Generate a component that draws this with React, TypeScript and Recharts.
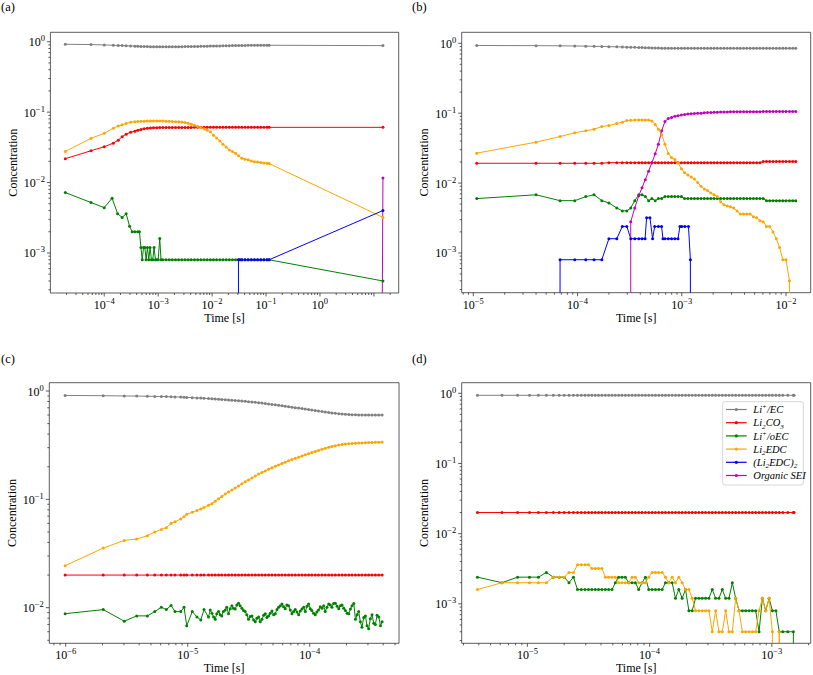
import React from 'react';
import { LineChart, Line, XAxis, YAxis, ReferenceArea } from 'recharts';

// ---------- colours ----------
const GREY = '#808080';
const RED = '#ff0000';
const GREEN = '#008000';
const ORANGE = '#ffa500';
const BLUE = '#0000ff';
const MAGENTA = '#bf00bf';
const AX = '#333333';
const SERIF = "'Liberation Serif', 'DejaVu Serif', serif";

// ---------- panel (a) ----------
const aT = [1.9e-5, 5.7e-5, 1.0e-4, 1.47e-4, 1.82e-4, 2.15e-4, 2.55e-4, 3.08e-4, 3.7e-4, 4.2e-4,
  4.8e-4, 5.5e-4, 6.3e-4, 7.2e-4, 8.2e-4, 9.4e-4, 1.07e-3, 1.22e-3, 1.4e-3, 1.6e-3,
  1.83e-3, 2.1e-3, 2.4e-3, 2.75e-3, 3.15e-3, 3.6e-3, 4.1e-3, 4.7e-3, 5.4e-3, 6.2e-3,
  7.1e-3, 8.1e-3, 9.3e-3, 1.06e-2, 1.21e-2, 1.39e-2, 1.59e-2, 1.82e-2, 2.08e-2, 2.38e-2,
  2.72e-2, 3.11e-2, 3.56e-2, 4.07e-2, 4.66e-2, 5.33e-2, 6.1e-2, 6.97e-2, 7.97e-2, 9.12e-2,
  0.104, 0.114, 14.7];
const aGrey = [0.92, 0.91, 0.90, 0.89, 0.885, 0.88, 0.875, 0.87, 0.865, 0.862,
  0.858, 0.855, 0.852, 0.85, 0.848, 0.847, 0.846, 0.846, 0.846, 0.847,
  0.848, 0.849, 0.85, 0.851, 0.852, 0.853, 0.855, 0.856, 0.858, 0.86,
  0.862, 0.864, 0.866, 0.868, 0.87, 0.872, 0.874, 0.876, 0.878, 0.88,
  0.882, 0.884, 0.885, 0.886, 0.887, 0.888, 0.889, 0.89, 0.89, 0.89,
  0.89, 0.89, 0.88];
const aRed = [0.0218, 0.0283, 0.0322, 0.0362, 0.040, 0.0448, 0.0486, 0.0517, 0.0537, 0.0552,
  0.0567, 0.0582, 0.059, 0.0595, 0.06, 0.0602, 0.0604, 0.0604, 0.0604, 0.0604,
  0.0604, 0.0604, 0.0604, 0.0604, 0.0604, 0.0604, 0.0604, 0.0608, 0.0608, 0.0608,
  0.0608, 0.0608, 0.0608, 0.0608, 0.0608, 0.0608, 0.0608, 0.0608, 0.0608, 0.0608,
  0.0608, 0.0608, 0.0608, 0.0608, 0.0608, 0.0608, 0.0608, 0.0608, 0.0608, 0.0608,
  0.0608, 0.0608, 0.0608];
const aOrange = [0.0277, 0.0425, 0.050, 0.0589, 0.0635, 0.066, 0.069, 0.0718, 0.073, 0.0735,
  0.074, 0.0742, 0.0745, 0.0747, 0.0748, 0.0748, 0.0748, 0.0745, 0.0742, 0.074,
  0.0736, 0.0732, 0.0728, 0.0722, 0.0712, 0.0695, 0.0675, 0.065, 0.0625, 0.0605,
  0.058, 0.0555, 0.0525, 0.047, 0.043, 0.039, 0.035, 0.032, 0.029, 0.0275,
  0.026, 0.024, 0.0222, 0.0215, 0.021, 0.0203, 0.0198, 0.0195, 0.0192, 0.019,
  0.0188, 0.0186, 0.0032];
const aGreen = [[1.9e-5, 0.0072], [5.7e-5, 0.0052], [1.0e-4, 0.0044], [1.4e-4, 0.006], [1.77e-4, 0.0036],
  [2.15e-4, 0.0032], [2.55e-4, 0.0036], [2.95e-4, 0.0024], [3.3e-4, 0.002], [3.7e-4, 0.002],
  [4.2e-4, 0.002], [4.5e-4, 0.002], [4.79e-4, 0.0012], [5.07e-4, 0.0008], [5.36e-4, 0.0012],
  [5.66e-4, 0.0012], [5.98e-4, 0.0008], [6.33e-4, 0.0012], [6.7e-4, 0.0008], [7.08e-4, 0.0012],
  [7.5e-4, 0.0008], [7.93e-4, 0.0008], [8.4e-4, 0.0012], [8.9e-4, 0.0008], [9.46e-4, 0.0008],
  [1.0e-3, 0.0008], [1.07e-3, 0.0016], [1.13e-3, 0.0008], [1.22e-3, 0.0008], [1.4e-3, 0.0008],
  [1.6e-3, 0.0008], [1.83e-3, 0.0008], [2.1e-3, 0.0008], [2.4e-3, 0.0008], [2.75e-3, 0.0008],
  [3.15e-3, 0.0008], [3.6e-3, 0.0008], [4.1e-3, 0.0008], [4.7e-3, 0.0008], [5.4e-3, 0.0008],
  [6.2e-3, 0.0008], [7.1e-3, 0.0008], [8.1e-3, 0.0008], [9.3e-3, 0.0008], [1.06e-2, 0.0008],
  [1.21e-2, 0.0008], [1.39e-2, 0.0008], [1.59e-2, 0.0008], [1.82e-2, 0.0008], [2.08e-2, 0.0008],
  [2.38e-2, 0.0008], [2.72e-2, 0.0008], [3.11e-2, 0.0008], [3.56e-2, 0.0008], [4.07e-2, 0.0008],
  [4.66e-2, 0.0008], [5.33e-2, 0.0008], [6.1e-2, 0.0008], [6.97e-2, 0.0008], [7.97e-2, 0.0008],
  [9.12e-2, 0.0008], [0.104, 0.0008], [0.114, 0.0008], [14.7, 0.0004]];
const aBlue = [[1.9e-5, 0], [2.72e-2, 0], [3.08e-2, 0.0008], [3.3e-2, 0.0008], [3.56e-2, 0.0008],
  [4.07e-2, 0.0008], [4.66e-2, 0.0008], [5.33e-2, 0.0008], [6.1e-2, 0.0008], [6.97e-2, 0.0008],
  [7.97e-2, 0.0008], [9.12e-2, 0.0008], [0.104, 0.0008], [0.114, 0.0008], [14.7, 0.004]];
const aMagenta = [[1.9e-5, 0], [0.114, 0], [14.7, 0.0116]];

// ---------- panel (b) ----------
const bT = [1.08e-5, 4.0e-5, 6.8e-5, 9.4e-5, 1.2e-4, 1.44e-4, 1.71e-4, 2.0e-4, 2.38e-4, 2.69e-4,
  2.97e-4, 3.24e-4, 3.54e-4, 3.87e-4, 4.16e-4, 4.47e-4, 4.81e-4, 5.17e-4, 5.56e-4, 5.97e-4,
  6.42e-4, 6.9e-4, 7.42e-4, 7.98e-4, 8.58e-4, 9.22e-4, 9.91e-4, 1.065e-3, 1.145e-3, 1.231e-3,
  1.323e-3, 1.422e-3, 1.529e-3, 1.644e-3, 1.767e-3, 1.9e-3, 2.04e-3, 2.19e-3, 2.36e-3, 2.54e-3,
  2.73e-3, 2.93e-3, 3.15e-3, 3.39e-3, 3.64e-3, 3.92e-3, 4.21e-3, 4.53e-3, 4.87e-3, 5.23e-3,
  5.62e-3, 6.04e-3, 6.5e-3, 6.98e-3, 7.51e-3, 8.07e-3, 8.67e-3, 9.32e-3, 1.0e-2, 1.08e-2,
  1.16e-2, 1.24e-2];
const bGrey = [0.93, 0.925, 0.92, 0.915, 0.91, 0.905, 0.9, 0.895, 0.89, 0.885,
  0.88, 0.877, 0.874, 0.87, 0.867, 0.864, 0.861, 0.858, 0.855, 0.853,
  0.851, 0.849, 0.848, 0.847, 0.846, 0.846, 0.846, 0.846, 0.846, 0.846,
  0.846, 0.846, 0.846, 0.846, 0.846, 0.846, 0.846, 0.846, 0.846, 0.846,
  0.846, 0.846, 0.846, 0.846, 0.846, 0.846, 0.846, 0.846, 0.846, 0.846,
  0.846, 0.846, 0.846, 0.846, 0.846, 0.846, 0.846, 0.846, 0.846, 0.846,
  0.846, 0.846];
const bRed = [0.0192, 0.0192, 0.0192, 0.0192, 0.0192, 0.0192, 0.0192, 0.0196, 0.0196, 0.0196,
  0.0196, 0.0196, 0.0196, 0.0196, 0.0196, 0.0196, 0.0196, 0.0196, 0.0196, 0.0196,
  0.0196, 0.0196, 0.0196, 0.0196, 0.0196, 0.0196, 0.0196, 0.0196, 0.0196, 0.0196,
  0.0196, 0.0196, 0.0196, 0.0196, 0.0196, 0.0196, 0.0196, 0.0196, 0.0196, 0.0196,
  0.0196, 0.0196, 0.0196, 0.0196, 0.0196, 0.0196, 0.0196, 0.0196, 0.0196, 0.0196,
  0.0196, 0.0204, 0.0204, 0.0204, 0.0204, 0.0204, 0.0204, 0.0204, 0.0204, 0.0204,
  0.0204, 0.0204];
const bGreen = [0.006, 0.0068, 0.0056, 0.0056, 0.0064, 0.0068, 0.0056, 0.0052, 0.0044, 0.004,
  0.004, 0.0044, 0.0056, 0.0068, 0.0068, 0.0064, 0.0056, 0.006, 0.0056, 0.006,
  0.006, 0.0064, 0.0064, 0.0064, 0.0064, 0.0064, 0.0064, 0.006, 0.006, 0.006,
  0.006, 0.006, 0.006, 0.006, 0.006, 0.006, 0.006, 0.006, 0.006, 0.006,
  0.006, 0.006, 0.006, 0.006, 0.006, 0.006, 0.006, 0.006, 0.006, 0.006,
  0.006, 0.006, 0.0056, 0.0056, 0.0056, 0.0056, 0.0056, 0.0056, 0.0056, 0.0056,
  0.0056, 0.0056];
const bOrange = [0.0268, 0.0385, 0.0463, 0.0524, 0.0559, 0.059, 0.0644, 0.0665, 0.0711, 0.0743,
  0.0784, 0.079, 0.0796, 0.080, 0.080, 0.080, 0.0796, 0.0775, 0.069, 0.059,
  0.049, 0.036, 0.0265, 0.0232, 0.0218, 0.0196, 0.016, 0.014, 0.013, 0.0122,
  0.0114, 0.0102, 0.009, 0.0082, 0.0078, 0.0072, 0.0068, 0.0064, 0.0054, 0.0049,
  0.0047, 0.0046, 0.0044, 0.004, 0.0036, 0.0036, 0.0036, 0.0036, 0.0033, 0.0032,
  0.0029, 0.0028, 0.0024, 0.0024, 0.002, 0.0016, 0.0012, 0.0008, 0.0008, 0.0004,
  0, 0];
const bMagenta = [0, 0, 0, 0, 0, 0, 0, 0, 0, 0,
  0, 0.0028, 0.0044, 0.0066, 0.0086, 0.0112, 0.0148, 0.0196, 0.0262, 0.036,
  0.056, 0.076, 0.084, 0.087, 0.09, 0.092, 0.094, 0.096, 0.097, 0.098,
  0.099, 0.1, 0.1, 0.101, 0.102, 0.102, 0.103, 0.103, 0.104, 0.104,
  0.104, 0.105, 0.105, 0.105, 0.105, 0.105, 0.105, 0.105, 0.105, 0.105,
  0.105, 0.106, 0.106, 0.106, 0.106, 0.106, 0.106, 0.106, 0.106, 0.106,
  0.106, 0.106];
const bBlue = [[1.08e-5, 0], [4.0e-5, 0], [6.8e-5, 0.0008], [9.4e-5, 0.0008], [1.2e-4, 0.0008],
  [1.44e-4, 0.0008], [1.71e-4, 0.0008], [2.0e-4, 0.0016], [2.38e-4, 0.0016], [2.69e-4, 0.0024],
  [2.97e-4, 0.0024], [3.24e-4, 0.0016], [3.54e-4, 0.0016], [3.87e-4, 0.0016], [4.16e-4, 0.0016],
  [4.45e-4, 0.0016], [4.6e-4, 0.0032], [4.95e-4, 0.0032], [5.25e-4, 0.0016], [5.5e-4, 0.0024],
  [5.97e-4, 0.0024], [6.4e-4, 0.0024], [6.6e-4, 0.0016], [6.9e-4, 0.0016], [7.42e-4, 0.0016],
  [7.98e-4, 0.0016], [8.58e-4, 0.0016], [9.2e-4, 0.0016], [9.6e-4, 0.0024], [1.0e-3, 0.0024],
  [1.07e-3, 0.0024], [1.16e-3, 0.0024], [1.21e-3, 0.0008], [1.23e-3, 0], [1.24e-2, 0]];

// ---------- panel (c) ----------
const cT = [0.99e-6, 2.03e-6, 3.02e-6, 3.82e-6, 4.67e-6, 5.37e-6, 6.08e-6, 6.68e-6, 7.3e-6, 7.87e-6,
  8.77e-6, 9.33e-6, 9.82e-6, 1.09e-5, 1.19e-5, 1.28e-5, 1.36e-5, 1.48e-5, 1.58e-5, 1.68e-5,
  1.79e-5, 1.9e-5, 2.03e-5, 2.16e-5, 2.3e-5, 2.45e-5, 2.61e-5, 2.78e-5, 2.96e-5, 3.15e-5,
  3.36e-5, 3.58e-5, 3.81e-5, 4.06e-5, 4.32e-5, 4.6e-5, 4.9e-5, 5.22e-5, 5.56e-5, 5.92e-5,
  6.3e-5, 6.71e-5, 7.15e-5, 7.61e-5, 8.11e-5, 8.64e-5, 9.2e-5, 9.79e-5, 1.04e-4, 1.11e-4,
  1.18e-4, 1.26e-4, 1.34e-4, 1.43e-4, 1.52e-4, 1.62e-4, 1.73e-4, 1.84e-4, 1.96e-4, 2.09e-4,
  2.22e-4, 2.37e-4, 2.52e-4, 2.68e-4, 2.86e-4, 3.04e-4, 3.24e-4, 3.45e-4, 3.68e-4, 3.92e-4];
const cGrey = [0.91, 0.905, 0.9, 0.898, 0.895, 0.892, 0.89, 0.888, 0.885, 0.882,
  0.879, 0.876, 0.873, 0.868, 0.864, 0.86, 0.856, 0.852, 0.848, 0.844,
  0.84, 0.836, 0.83, 0.826, 0.822, 0.818, 0.813, 0.808, 0.803, 0.797,
  0.792, 0.786, 0.78, 0.773, 0.766, 0.759, 0.752, 0.745, 0.738, 0.731,
  0.724, 0.716, 0.709, 0.702, 0.695, 0.688, 0.681, 0.674, 0.667, 0.66,
  0.653, 0.646, 0.64, 0.634, 0.628, 0.622, 0.617, 0.613, 0.61, 0.607,
  0.605, 0.603, 0.602, 0.601, 0.6, 0.6, 0.6, 0.599, 0.599, 0.599];
const cRed = [0.02, 0.02, 0.02, 0.02, 0.02, 0.02, 0.02, 0.02, 0.02, 0.02,
  0.02, 0.02, 0.02, 0.02, 0.02, 0.02, 0.02, 0.02, 0.02, 0.02,
  0.02, 0.02, 0.02, 0.02, 0.02, 0.02, 0.02, 0.02, 0.02, 0.02,
  0.02, 0.02, 0.02, 0.02, 0.02, 0.02, 0.02, 0.02, 0.02, 0.02,
  0.02, 0.02, 0.02, 0.02, 0.02, 0.02, 0.02, 0.02, 0.02, 0.02,
  0.02, 0.02, 0.02, 0.02, 0.02, 0.02, 0.02, 0.02, 0.02, 0.02,
  0.02, 0.02, 0.02, 0.02, 0.02, 0.02, 0.02, 0.02, 0.02, 0.02];
const cOrange = [0.0244, 0.0355, 0.0418, 0.043, 0.0462, 0.050, 0.0527, 0.0548, 0.06, 0.062,
  0.066, 0.069, 0.0727, 0.076, 0.079, 0.0815, 0.084, 0.088, 0.091, 0.096,
  0.101, 0.106, 0.112, 0.117, 0.122, 0.127, 0.133, 0.139, 0.145, 0.151,
  0.157, 0.164, 0.171, 0.177, 0.183, 0.19, 0.196, 0.202, 0.208, 0.214,
  0.22, 0.227, 0.233, 0.239, 0.245, 0.251, 0.258, 0.264, 0.27, 0.277,
  0.283, 0.29, 0.296, 0.302, 0.307, 0.312, 0.317, 0.321, 0.324, 0.326,
  0.328, 0.33, 0.331, 0.332, 0.333, 0.334, 0.335, 0.336, 0.337, 0.338];
// Li+/oEC in (c) is a dense, noisy trace: its own (time, value) list
const cGreen = [[0.99e-6, 0.0088], [2.03e-6, 0.0096], [3.02e-6, 0.0075], [3.82e-6, 0.0084], [4.67e-6, 0.0084],
  [5.37e-6, 0.0092], [6.08e-6, 0.0101], [6.68e-6, 0.0096], [7.3e-6, 0.0105], [7.87e-6, 0.0092],
  [8.77e-6, 0.0092], [9.33e-6, 0.0101], [9.82e-6, 0.0068], [1.09e-5, 0.0092], [1.19e-5, 0.0082],
  [1.28e-5, 0.0077], [1.36e-5, 0.0096], [1.48e-5, 0.0082], [1.53e-5, 0.0095], [1.58e-5, 0.0089],
  [1.63e-5, 0.0082], [1.68e-5, 0.0078], [1.73e-5, 0.0088], [1.79e-5, 0.0092], [1.845e-5, 0.0086],
  [1.9e-5, 0.0084], [1.96e-5, 0.0092], [2.03e-5, 0.0095], [2.09e-5, 0.0101], [2.16e-5, 0.0088],
  [2.23e-5, 0.0098], [2.3e-5, 0.0104], [2.37e-5, 0.0099], [2.45e-5, 0.0097], [2.53e-5, 0.0106],
  [2.61e-5, 0.011], [2.69e-5, 0.0104], [2.78e-5, 0.0099], [2.87e-5, 0.0094], [2.96e-5, 0.0092],
  [3.05e-5, 0.0086], [3.15e-5, 0.0078], [3.25e-5, 0.0083], [3.36e-5, 0.0084], [3.47e-5, 0.0077],
  [3.58e-5, 0.0074], [3.69e-5, 0.008], [3.81e-5, 0.0082], [3.93e-5, 0.0074], [4.06e-5, 0.0078],
  [4.19e-5, 0.0085], [4.32e-5, 0.0088], [4.46e-5, 0.0081], [4.6e-5, 0.0084], [4.75e-5, 0.0089],
  [4.9e-5, 0.0093], [5.06e-5, 0.0086], [5.22e-5, 0.0088], [5.39e-5, 0.0096], [5.56e-5, 0.0101],
  [5.74e-5, 0.0104], [5.92e-5, 0.0108], [6.11e-5, 0.0102], [6.3e-5, 0.0098], [6.5e-5, 0.0106],
  [6.71e-5, 0.0104], [6.93e-5, 0.0095], [7.15e-5, 0.0088], [7.38e-5, 0.0092], [7.61e-5, 0.0096],
  [7.86e-5, 0.0091], [8.11e-5, 0.0086], [8.37e-5, 0.0093], [8.64e-5, 0.0097], [8.92e-5, 0.0101],
  [9.2e-5, 0.0092], [9.5e-5, 0.0103], [9.79e-5, 0.0108], [1.01e-4, 0.0098], [1.04e-4, 0.0094],
  [1.075e-4, 0.0089], [1.11e-4, 0.0086], [1.145e-4, 0.0091], [1.18e-4, 0.0095], [1.22e-4, 0.0102],
  [1.26e-4, 0.0099], [1.3e-4, 0.0104], [1.34e-4, 0.0092], [1.385e-4, 0.0101], [1.43e-4, 0.0108],
  [1.475e-4, 0.0106], [1.52e-4, 0.0101], [1.57e-4, 0.0109], [1.62e-4, 0.011], [1.675e-4, 0.0103],
  [1.73e-4, 0.0098], [1.785e-4, 0.0104], [1.84e-4, 0.0106], [1.9e-4, 0.0099], [1.96e-4, 0.0094],
  [2.025e-4, 0.0089], [2.09e-4, 0.0088], [2.155e-4, 0.0097], [2.22e-4, 0.0104], [2.295e-4, 0.0109],
  [2.37e-4, 0.0078], [2.445e-4, 0.0086], [2.52e-4, 0.0092], [2.6e-4, 0.0074], [2.68e-4, 0.0066],
  [2.77e-4, 0.0081], [2.86e-4, 0.0084], [2.95e-4, 0.0068], [3.04e-4, 0.0064], [3.14e-4, 0.0079],
  [3.24e-4, 0.0086], [3.345e-4, 0.0072], [3.45e-4, 0.007], [3.565e-4, 0.0085], [3.68e-4, 0.0082],
  [3.8e-4, 0.0068], [3.92e-4, 0.0074]];

// ---------- panel (d) ----------
const dT = [3.9e-6, 6.2e-6, 8.3e-6, 1.04e-5, 1.23e-5, 1.43e-5, 1.63e-5, 1.82e-5, 2.0e-5, 2.19e-5,
  2.38e-5, 2.57e-5, 2.76e-5, 2.96e-5, 3.16e-5, 3.37e-5, 3.59e-5, 3.82e-5, 4.07e-5, 4.34e-5,
  4.62e-5, 4.92e-5, 5.24e-5, 5.58e-5, 5.94e-5, 6.33e-5, 6.74e-5, 7.18e-5, 7.65e-5, 8.14e-5,
  8.67e-5, 9.24e-5, 9.84e-5, 1.048e-4, 1.116e-4, 1.188e-4, 1.266e-4, 1.348e-4, 1.435e-4, 1.529e-4,
  1.628e-4, 1.734e-4, 1.847e-4, 1.967e-4, 2.095e-4, 2.231e-4, 2.376e-4, 2.53e-4, 2.695e-4, 2.87e-4,
  3.057e-4, 3.255e-4, 3.467e-4, 3.692e-4, 3.932e-4, 4.188e-4, 4.46e-4, 4.75e-4, 5.06e-4, 5.39e-4,
  5.74e-4, 6.11e-4, 6.51e-4, 6.93e-4, 7.38e-4, 7.86e-4, 8.37e-4, 8.92e-4, 9.5e-4, 1.01e-3,
  1.08e-3, 1.15e-3, 1.23e-3, 1.35e-3, 1.5e-3, 1.52e-3];
const dGrey = [0.936, 0.936, 0.936, 0.936, 0.936, 0.936, 0.936, 0.936, 0.936, 0.936,
  0.936, 0.936, 0.936, 0.936, 0.936, 0.936, 0.936, 0.936, 0.936, 0.936,
  0.936, 0.936, 0.936, 0.936, 0.936, 0.936, 0.936, 0.936, 0.936, 0.936,
  0.936, 0.936, 0.936, 0.936, 0.936, 0.936, 0.936, 0.936, 0.936, 0.936,
  0.936, 0.936, 0.936, 0.936, 0.936, 0.936, 0.936, 0.936, 0.936, 0.936,
  0.936, 0.936, 0.936, 0.936, 0.936, 0.936, 0.936, 0.936, 0.936, 0.936,
  0.936, 0.936, 0.936, 0.936, 0.936, 0.936, 0.936, 0.936, 0.936, 0.936,
  0.936, 0.936, 0.936, 0.936, 0.936, 0.936];
const dRed = [0.02, 0.02, 0.02, 0.02, 0.02, 0.02, 0.02, 0.02, 0.02, 0.02,
  0.02, 0.02, 0.02, 0.02, 0.02, 0.02, 0.02, 0.02, 0.02, 0.02,
  0.02, 0.02, 0.02, 0.02, 0.02, 0.02, 0.02, 0.02, 0.02, 0.02,
  0.02, 0.02, 0.02, 0.02, 0.02, 0.02, 0.02, 0.02, 0.02, 0.02,
  0.02, 0.02, 0.02, 0.02, 0.02, 0.02, 0.02, 0.02, 0.02, 0.02,
  0.02, 0.02, 0.02, 0.02, 0.02, 0.02, 0.02, 0.02, 0.02, 0.02,
  0.02, 0.02, 0.02, 0.02, 0.02, 0.02, 0.02, 0.02, 0.02, 0.02,
  0.02, 0.02, 0.02, 0.02, 0.02, 0.02];
const dGreen = [0.0024, 0.002, 0.0024, 0.0024, 0.0024, 0.0028, 0.0024, 0.0024, 0.0024, 0.002,
  0.0024, 0.0016, 0.0016, 0.0016, 0.0016, 0.0016, 0.0016, 0.0016, 0.0016, 0.0016,
  0.0016, 0.0016, 0.002, 0.0024, 0.0024, 0.0024, 0.002, 0.002, 0.002, 0.0016,
  0.002, 0.0024, 0.0016, 0.0016, 0.0016, 0.0016, 0.0016, 0.002, 0.002, 0.002,
  0.0012, 0.0016, 0.0012, 0.0016, 0.0008, 0.0008, 0.0012, 0.0012, 0.0012, 0.0012,
  0.0012, 0.0016, 0.0012, 0.0012, 0.0016, 0.0012, 0.0012, 0.002, 0.0012, 0.0008,
  0.0008, 0.0008, 0.0008, 0.0008, 0.0008, 0.0004, 0.0012, 0.0008, 0.0012, 0.0008,
  0.0008, 0.0004, 0.0004, 0.0004, 0.0004, 0];
const dOrange = [0.0016, 0.002, 0.002, 0.002, 0.002, 0.002, 0.0024, 0.0024, 0.0024, 0.0028,
  0.0028, 0.0036, 0.0036, 0.0036, 0.0036, 0.0032, 0.0032, 0.0032, 0.0032, 0.0024,
  0.0024, 0.0024, 0.0024, 0.002, 0.002, 0.002, 0.002, 0.0024, 0.0024, 0.002,
  0.002, 0.002, 0.0024, 0.0028, 0.0028, 0.0028, 0.0028, 0.0024, 0.002, 0.0024,
  0.002, 0.0024, 0.002, 0.0016, 0.0016, 0.0012, 0.0008, 0.0008, 0.0008, 0.0008,
  0.0008, 0.0004, 0.0008, 0.0004, 0.0004, 0.0008, 0.0004, 0.0004, 0.0012, 0.0008,
  0.0004, 0.0004, 0.0004, 0.0004, 0.0004, 0.0008, 0.0012, 0.0008, 0.0012, 0.0004,
  0, 0.0004, 0, 0, 0, 0];

// ---------- axis tick labels ----------
const aXLabels = [1e-4, 1e-3, 1e-2, 1e-1, 1];
const bXLabels = [1e-5, 1e-4, 1e-3, 1e-2];
const cXLabels = [1e-6, 1e-5, 1e-4];
const dXLabels = [1e-5, 1e-4, 1e-3];
const yLabels4 = [1e-3, 1e-2, 1e-1, 1];
const yLabels3 = [1e-2, 1e-1, 1];

// ---------- legend ----------
type Seg = [string, '' | 'sub' | 'sup'];
const LEGEND: { color: string; label: Seg[] }[] = [
  { color: GREY, label: [['Li', ''], ['+', 'sup'], ['/EC', '']] },
  { color: RED, label: [['Li', ''], ['2', 'sub'], ['CO', ''], ['3', 'sub']] },
  { color: GREEN, label: [['Li', ''], ['+', 'sup'], ['/oEC', '']] },
  { color: ORANGE, label: [['Li', ''], ['2', 'sub'], ['EDC', '']] },
  { color: BLUE, label: [['(Li', ''], ['2', 'sub'], ['EDC)', ''], ['2', 'sub']] },
  { color: MAGENTA, label: [['Organic SEI', '']] },
];

// ---------- helpers ----------
const FLOOR = 1e-300; // zero concentrations lie far below a log axis
const rows = (t: number[], c: number[]) => t.map((x, i) => ({ t: x, c: c[i] > 0 ? c[i] : FLOOR }));
const pairRows = (p: number[][]) => p.map(([t, c]) => ({ t, c: c > 0 ? c : FLOOR }));

function logTicks(dom: number[]) {
  const [lo, hi] = dom;
  const out: number[] = [];
  for (let e = Math.floor(Math.log10(lo)); e <= Math.ceil(Math.log10(hi)); e++) {
    for (let m = 1; m <= 9; m++) {
      const v = m * Math.pow(10, e);
      if (v >= lo && v <= hi) out.push(v);
    }
  }
  return out;
}
const expOf = (v: number) => Math.round(Math.log10(v));
const isMajor = (v: number) => Math.abs(Math.log10(v) - expOf(v)) < 1e-6;
const fmtExp = (e: number) => (e < 0 ? '\u2212' + String(-e) : String(e));
const hasLabel = (labels: number[], v: number) => labels.some((l) => expOf(l) === expOf(v));

const XTick = (p: any) => {
  const { x, y, payload, labels } = p;
  const v = payload.value;
  const major = isMajor(v);
  return (
    <g>
      <line x1={x} x2={x} y1={y} y2={y + (major ? 3.5 : 2)} stroke={AX} strokeWidth={0.8} />
      {major && hasLabel(labels, v) && (
        <text x={x} y={y + 16} textAnchor="middle" fontFamily={SERIF} fontSize={12} fill="#000">
          10<tspan dy={-5} fontSize={8.5}>{fmtExp(expOf(v))}</tspan>
        </text>
      )}
    </g>
  );
};

const YTick = (p: any) => {
  const { x, y, payload, labels } = p;
  const v = payload.value;
  const major = isMajor(v);
  return (
    <g>
      <line x1={x - (major ? 3.5 : 2)} x2={x} y1={y} y2={y} stroke={AX} strokeWidth={0.8} />
      {major && hasLabel(labels, v) && (
        <text x={x - 5.5} y={y + 4.5} textAnchor="end" fontFamily={SERIF} fontSize={12} fill="#000">
          10<tspan dy={-5} fontSize={8.5}>{fmtExp(expOf(v))}</tspan>
        </text>
      )}
    </g>
  );
};

type Series = { key: string; color: string; data: { t: number; c: number }[] };
type PanelProps = {
  pos: { left: number; top: number; width: number; height: number };
  box: { x0: number; x1: number; y0: number; y1: number };
  xDom: number[];
  yDom: number[];
  xLabels: number[];
  yLabels: number[];
  series: Series[];
};

function Panel({ pos, box, xDom, yDom, xLabels, yLabels, series }: PanelProps) {
  const yw = 40;
  const xh = 30;
  const margin = {
    left: box.x0 - pos.left - yw,
    top: box.y0 - pos.top,
    right: pos.left + pos.width - box.x1,
    bottom: pos.top + pos.height - box.y1 - xh,
  };
  return (
    <div style={{ position: 'absolute', left: pos.left, top: pos.top }}>
      <LineChart width={pos.width} height={pos.height} margin={margin}>
        <XAxis
          type="number" dataKey="t" scale="log" domain={xDom} allowDataOverflow
          ticks={logTicks(xDom)} interval={0} tickSize={0} tickMargin={0} tickLine={false}
          axisLine={false} height={xh}
          tick={(p: any) => <XTick {...p} labels={xLabels} />}
        />
        <YAxis
          type="number" dataKey="c" scale="log" domain={yDom} allowDataOverflow
          ticks={logTicks(yDom)} interval={0} tickSize={0} tickMargin={0} tickLine={false}
          axisLine={false} width={yw}
          tick={(p: any) => <YTick {...p} labels={yLabels} />}
        />
        <ReferenceArea x1={xDom[0]} x2={xDom[1]} y1={yDom[0]} y2={yDom[1]} fill="none"
          stroke={AX} strokeWidth={0.8} ifOverflow="visible" />
        {series.map((s) => (
          <Line key={s.key} data={s.data} dataKey="c" type="linear" stroke={s.color} strokeWidth={1}
            dot={{ r: 1.5, fill: s.color, stroke: 'none' }} activeDot={false}
            isAnimationActive={false} />
        ))}
      </LineChart>
    </div>
  );
}

const PANELS: PanelProps[] = [
  {
    pos: { left: 0, top: 0, width: 406, height: 337 },
    box: { x0: 50.4, x1: 398.7, y0: 32.3, y1: 293 },
    xDom: [1.005e-5, 28.8], yDom: [2.7e-4, 1.36],
    xLabels: aXLabels, yLabels: yLabels4,
    series: [
      { key: 'g', color: GREY, data: rows(aT, aGrey) },
      { key: 'r', color: RED, data: rows(aT, aRed) },
      { key: 'gr', color: GREEN, data: pairRows(aGreen) },
      { key: 'o', color: ORANGE, data: rows(aT, aOrange) },
      { key: 'b', color: BLUE, data: pairRows(aBlue) },
      { key: 'm', color: MAGENTA, data: pairRows(aMagenta) },
    ],
  },
  {
    pos: { left: 406, top: 0, width: 407, height: 337 },
    box: { x0: 461.7, x1: 810.7, y0: 32.3, y1: 292.7 },
    xDom: [7.74e-6, 1.726e-2], yDom: [2.7e-4, 1.436],
    xLabels: bXLabels, yLabels: yLabels4,
    series: [
      { key: 'g', color: GREY, data: rows(bT, bGrey) },
      { key: 'r', color: RED, data: rows(bT, bRed) },
      { key: 'gr', color: GREEN, data: rows(bT, bGreen) },
      { key: 'o', color: ORANGE, data: rows(bT, bOrange) },
      { key: 'b', color: BLUE, data: pairRows(bBlue) },
      { key: 'm', color: MAGENTA, data: rows(bT, bMagenta) },
    ],
  },
  {
    pos: { left: 0, top: 337, width: 406, height: 338 },
    box: { x0: 49.3, x1: 399, y0: 382.7, y1: 643.3 },
    xDom: [7.34e-7, 5.39e-4], yDom: [4.69e-3, 1.193],
    xLabels: cXLabels, yLabels: yLabels3,
    series: [
      { key: 'g', color: GREY, data: rows(cT, cGrey) },
      { key: 'r', color: RED, data: rows(cT, cRed) },
      { key: 'gr', color: GREEN, data: pairRows(cGreen) },
      { key: 'o', color: ORANGE, data: rows(cT, cOrange) },
    ],
  },
  {
    pos: { left: 406, top: 337, width: 407, height: 338 },
    box: { x0: 461.7, x1: 810.7, y0: 382.7, y1: 643.3 },
    xDom: [2.9e-6, 2.08e-3], yDom: [2.74e-4, 1.415],
    xLabels: dXLabels, yLabels: yLabels4,
    series: [
      { key: 'g', color: GREY, data: rows(dT, dGrey) },
      { key: 'r', color: RED, data: rows(dT, dRed) },
      { key: 'gr', color: GREEN, data: rows(dT, dGreen) },
      { key: 'o', color: ORANGE, data: rows(dT, dOrange) },
    ],
  },
];

const PANEL_LETTERS = ['(a)', '(b)', '(c)', '(d)'];

function RichText({ segs, x, y, size }: { segs: Seg[]; x: number; y: number; size: number }) {
  let state = 0;
  return (
    <text x={x} y={y} fontFamily={SERIF} fontStyle="italic" fontSize={size} fill="#000">
      {segs.map(([txt, kind], i) => {
        const target = kind === 'sup' ? -4 : kind === 'sub' ? 2.5 : 0;
        const dy = target - state;
        state = target;
        return (
          <tspan key={i} dy={dy} fontSize={kind ? size * 0.68 : size}>{txt}</tspan>
        );
      })}
    </text>
  );
}

function Overlay() {
  const lg = { x: 722.7, y: 401.7, w: 80.6, h: 83.3 };
  return (
    <svg width={813} height={675} style={{ position: 'absolute', left: 0, top: 0, pointerEvents: 'none' }}>
      {PANELS.map((p, i) => {
        const cx = (p.box.x0 + p.box.x1) / 2;
        const cy = (p.box.y0 + p.box.y1) / 2;
        const lx = p.pos.left + 1 + (i % 2 === 1 ? 5 : 0);
        const ly = p.pos.top + (i < 2 ? 11 : 26);
        const ylx = p.box.x0 - 37.5;
        return (
          <g key={i}>
            <text x={lx} y={ly} fontFamily={SERIF} fontSize={12.5} fill="#000">{PANEL_LETTERS[i]}</text>
            <text x={cx} y={p.box.y1 + 25} textAnchor="middle" dominantBaseline="central"
              fontFamily={SERIF} fontSize={12} fill="#000">Time [s]</text>
            <text x={ylx} y={cy} textAnchor="middle" dominantBaseline="central"
              transform={`rotate(-90 ${ylx} ${cy})`} fontFamily={SERIF} fontSize={12} fill="#000">Concentration</text>
          </g>
        );
      })}
      <rect x={lg.x} y={lg.y} width={lg.w} height={lg.h} rx={2} fill="#ffffff" fillOpacity={0.8}
        stroke="#cccccc" strokeWidth={0.8} />
      {LEGEND.map((e, i) => {
        const yy = 409.5 + i * 13.2;
        return (
          <g key={i}>
            <line x1={726} x2={746.7} y1={yy} y2={yy} stroke={e.color} strokeWidth={1.2} />
            <circle cx={736.3} cy={yy} r={1.6} fill={e.color} />
            <RichText segs={e.label} x={753.3} y={yy + 3.6} size={10.5} />
          </g>
        );
      })}
    </svg>
  );
}

export default function App() {
  return (
    <div style={{ position: 'absolute', left: 0, top: 0, width: 813, height: 675, background: '#ffffff', overflow: 'hidden' }}>
      {PANELS.map((p, i) => (
        <Panel key={i} {...p} />
      ))}
      <Overlay />
    </div>
  );
}
